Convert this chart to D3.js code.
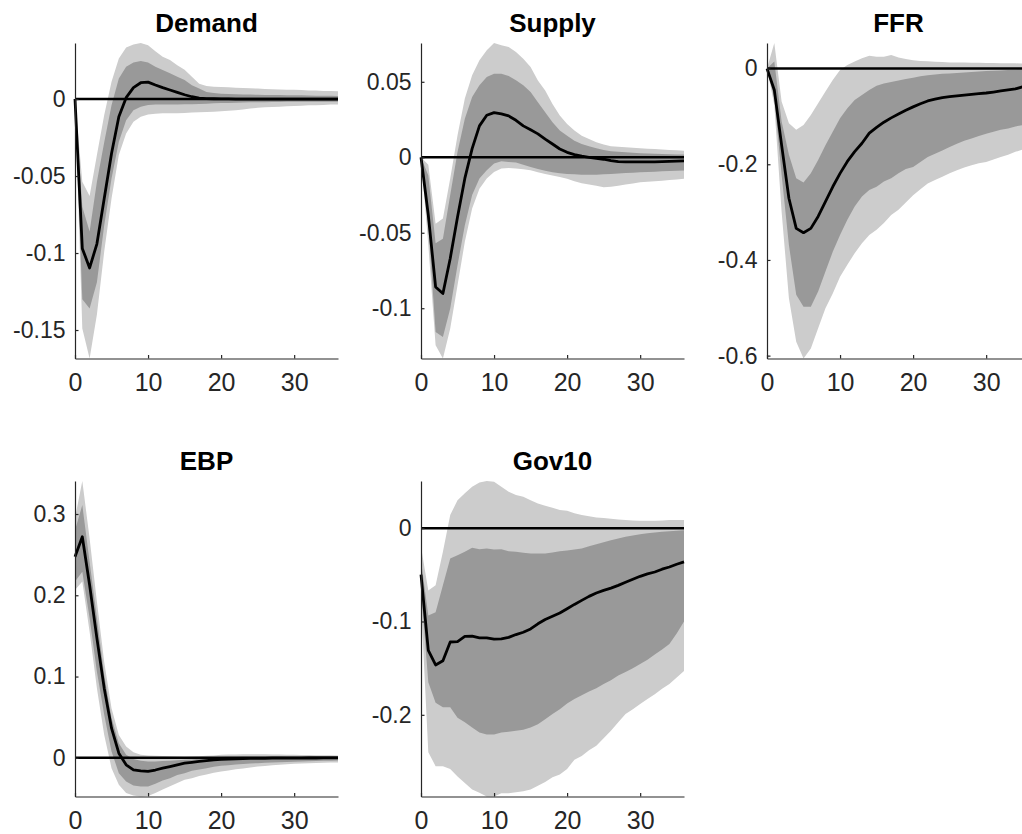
<!DOCTYPE html>
<html>
<head>
<meta charset="utf-8">
<script src="https://cdn.jsdelivr.net/npm/d3@7"></script>
<style>
  html, body { margin: 0; padding: 0; background: #ffffff; }
  svg { display: block; }
  text { font-family: "Liberation Sans", Arial, Helvetica, sans-serif; }
</style>
</head>
<body>
<svg id="chart" width="1022" height="834"></svg>
<script>
// ---------------- DATA ----------------
const horizons = d3.range(0, 37);
const panelNames = ["Demand", "Supply", "FFR", "EBP", "Gov10"];
const xTickValues = [0, 10, 20, 30];

// Demand
const demandMedian = [0, -0.097, -0.1097, -0.094, -0.0646, -0.0353, -0.0115, 0.0009, 0.0074, 0.0106, 0.011, 0.0091, 0.0074, 0.0059, 0.0043, 0.0028, 0.0015, 0.0006, 0.0003, 0.0002, 0.0001, 0.0001, 0, 0, 0, 0, 0, 0, 0, 0, 0, 0, 0, 0, 0, 0, 0];
const demandHi90 = [0, -0.0537, -0.063, -0.0364, -0.0104, 0.0113, 0.0264, 0.0334, 0.0355, 0.0364, 0.035, 0.031, 0.0275, 0.0254, 0.022, 0.019, 0.0145, 0.010, 0.0085, 0.008, 0.0078, 0.0076, 0.0074, 0.0072, 0.007, 0.0068, 0.0066, 0.0064, 0.0062, 0.0061, 0.006, 0.0058, 0.0056, 0.0055, 0.0053, 0.0052, 0.005];
const demandHi68 = [0, -0.07, -0.086, -0.0537, -0.028, -0.004, 0.0134, 0.021, 0.0238, 0.0247, 0.0238, 0.021, 0.0189, 0.0167, 0.0145, 0.0124, 0.009, 0.0069, 0.0045, 0.004, 0.0035, 0.0033, 0.0031, 0.003, 0.0029, 0.0028, 0.0027, 0.0026, 0.0026, 0.0025, 0.0025, 0.0024, 0.0023, 0.0022, 0.0021, 0.0021, 0.002];
const demandLo68 = [0, -0.13, -0.136, -0.119, -0.082, -0.0516, -0.0277, -0.0137, -0.0072, -0.005, -0.0039, -0.0036, -0.0035, -0.0035, -0.0035, -0.0034, -0.0033, -0.0032, -0.003, -0.0028, -0.0026, -0.0025, -0.0024, -0.0022, -0.0021, -0.002, -0.002, -0.0019, -0.0019, -0.0018, -0.0018, -0.0018, -0.0017, -0.0017, -0.0017, -0.0017, -0.0017];
const demandLo90 = [0, -0.149, -0.1685, -0.14, -0.099, -0.0646, -0.0364, -0.0223, -0.0147, -0.0115, -0.01, -0.0095, -0.0093, -0.0093, -0.0092, -0.009, -0.0088, -0.0086, -0.0084, -0.0082, -0.008, -0.0076, -0.0072, -0.0068, -0.0062, -0.0056, -0.0054, -0.0052, -0.005, -0.0047, -0.0045, -0.0043, -0.0041, -0.004, -0.0038, -0.0036, -0.0035];

// Supply
const supplyMedian = [0, -0.0384, -0.0859, -0.0903, -0.067, -0.0395, -0.014, 0.0057, 0.0208, 0.0278, 0.0296, 0.0287, 0.0274, 0.0245, 0.0208, 0.0182, 0.0155, 0.012, 0.0088, 0.0055, 0.0033, 0.0018, 0.0007, 0, -0.0007, -0.0013, -0.0022, -0.0029, -0.003, -0.003, -0.003, -0.003, -0.003, -0.0029, -0.0027, -0.0025, -0.0024];
const supplyHi90 = [0, -0.005, -0.044, -0.0406, -0.014, 0.0146, 0.0389, 0.0543, 0.0642, 0.0709, 0.0757, 0.0742, 0.073, 0.0698, 0.0653, 0.0598, 0.0508, 0.0442, 0.0353, 0.0276, 0.022, 0.0177, 0.0143, 0.0121, 0.0099, 0.0084, 0.0073, 0.0069, 0.0066, 0.0063, 0.006, 0.0057, 0.0054, 0.0051, 0.0048, 0.0046, 0.0044];
const supplyHi68 = [0, -0.012, -0.057, -0.054, -0.025, 0.0035, 0.0256, 0.040, 0.0477, 0.0532, 0.0554, 0.0554, 0.0539, 0.051, 0.0477, 0.0433, 0.0364, 0.0298, 0.0232, 0.0177, 0.0143, 0.011, 0.0088, 0.0073, 0.006, 0.0049, 0.004, 0.0036, 0.0033, 0.003, 0.0026, 0.0025, 0.0023, 0.0022, 0.002, 0.0019, 0.0018];
const supplyLo68 = [0, -0.045, -0.1157, -0.119, -0.1002, -0.0715, -0.045, -0.025, -0.0141, -0.0086, -0.0042, -0.0026, -0.0031, -0.0035, -0.005, -0.0065, -0.0078, -0.009, -0.0099, -0.0105, -0.011, -0.0113, -0.0115, -0.0115, -0.0115, -0.0113, -0.011, -0.0107, -0.0104, -0.0102, -0.01, -0.0098, -0.0096, -0.0093, -0.0091, -0.009, -0.0088];
const supplyLo90 = [0, -0.058, -0.1245, -0.1333, -0.1135, -0.0848, -0.056, -0.034, -0.0208, -0.0141, -0.0097, -0.0075, -0.0071, -0.0075, -0.0079, -0.0086, -0.0099, -0.011, -0.012, -0.013, -0.0143, -0.0158, -0.0172, -0.018, -0.0188, -0.0199, -0.0195, -0.0188, -0.018, -0.0173, -0.0166, -0.0162, -0.0158, -0.0155, -0.015, -0.0147, -0.0143];

// FFR
const ffrMedian = [0, -0.0446, -0.16, -0.271, -0.334, -0.343, -0.334, -0.309, -0.278, -0.247, -0.219, -0.194, -0.1735, -0.156, -0.135, -0.123, -0.112, -0.103, -0.095, -0.087, -0.08, -0.0735, -0.0676, -0.064, -0.0606, -0.0588, -0.057, -0.0555, -0.054, -0.0525, -0.051, -0.049, -0.0467, -0.0446, -0.0425, -0.038, -0.035];
const ffrHi90 = [0, 0.0535, -0.069, -0.114, -0.128, -0.118, -0.097, -0.0725, -0.048, -0.0237, -0.003, 0.0077, 0.0146, 0.0216, 0.027, 0.025, 0.025, 0.0286, 0.023, 0.02, 0.0174, 0.016, 0.0153, 0.0145, 0.014, 0.013, 0.0128, 0.0125, 0.0122, 0.012, 0.0118, 0.0116, 0.0114, 0.0112, 0.011, 0.0107, 0.0105];
const ffrHi68 = [0, 0.0146, -0.11, -0.18, -0.229, -0.238, -0.219, -0.191, -0.16, -0.132, -0.104, -0.083, -0.0655, -0.055, -0.0446, -0.036, -0.031, -0.028, -0.025, -0.022, -0.019, -0.016, -0.014, -0.0125, -0.011, -0.01, -0.009, -0.008, -0.007, -0.006, -0.005, -0.0045, -0.004, -0.003, -0.0027, -0.0023, -0.002];
const ffrLo68 = [0, -0.062, -0.222, -0.369, -0.473, -0.4976, -0.4976, -0.466, -0.424, -0.383, -0.348, -0.316, -0.2885, -0.2676, -0.2537, -0.247, -0.236, -0.229, -0.219, -0.21, -0.2056, -0.195, -0.185, -0.178, -0.171, -0.164, -0.157, -0.151, -0.146, -0.141, -0.136, -0.132, -0.128, -0.125, -0.121, -0.118, -0.115];
const ffrLo90 = [0, -0.076, -0.299, -0.48, -0.571, -0.606, -0.585, -0.543, -0.501, -0.47, -0.435, -0.41, -0.386, -0.365, -0.348, -0.337, -0.323, -0.306, -0.295, -0.28, -0.265, -0.252, -0.24, -0.233, -0.226, -0.219, -0.2125, -0.207, -0.202, -0.198, -0.195, -0.19, -0.185, -0.18, -0.174, -0.169, -0.164];

// EBP
const ebpMedian = [0.2475, 0.272, 0.2127, 0.147, 0.0857, 0.0365, 0.0057, -0.0086, -0.0148, -0.016, -0.0168, -0.015, -0.0127, -0.0107, -0.0086, -0.0066, -0.0055, -0.0045, -0.0035, -0.0025, -0.002, -0.0015, -0.0012, -0.001, -0.0008, -0.0007, -0.0006, -0.0005, -0.0004, -0.0004, -0.0003, -0.0003, -0.0002, -0.0002, -0.0001, -0.0001, 0];
const ebpHi90 = [0.295, 0.3406, 0.27, 0.192, 0.118, 0.061, 0.028, 0.014, 0.007, 0.0037, 0.003, 0.0025, 0.0022, 0.002, 0.0015, 0.0012, 0.0015, 0.002, 0.0025, 0.003, 0.0037, 0.004, 0.0042, 0.0044, 0.0045, 0.0045, 0.0044, 0.0042, 0.004, 0.0038, 0.0037, 0.0035, 0.0034, 0.0033, 0.0032, 0.0031, 0.003];
const ebpHi68 = [0.28, 0.311, 0.241, 0.172, 0.102, 0.049, 0.018, 0.0037, -0.0016, -0.0037, -0.0045, -0.0045, -0.004, -0.0035, -0.003, -0.0025, -0.002, -0.001, -0.0005, 0.0005, 0.001, 0.0012, 0.0014, 0.0015, 0.0016, 0.0016, 0.0016, 0.0015, 0.0015, 0.0014, 0.0014, 0.0013, 0.0013, 0.0012, 0.0012, 0.0012, 0.0012];
const ebpLo68 = [0.217, 0.229, 0.172, 0.106, 0.053, 0.0078, -0.0189, -0.029, -0.034, -0.0352, -0.0352, -0.032, -0.028, -0.025, -0.021, -0.0189, -0.016, -0.0145, -0.0127, -0.011, -0.0098, -0.009, -0.0082, -0.0076, -0.007, -0.0066, -0.0062, -0.0058, -0.0055, -0.0051, -0.0048, -0.0045, -0.0042, -0.004, -0.0037, -0.0035, -0.0033];
const ebpLo90 = [0.2066, 0.217, 0.155, 0.0857, 0.028, -0.0127, -0.033, -0.0434, -0.0463, -0.0476, -0.047, -0.0434, -0.039, -0.035, -0.031, -0.027, -0.025, -0.0225, -0.0205, -0.0185, -0.0168, -0.0155, -0.014, -0.013, -0.0118, -0.0107, -0.01, -0.0093, -0.0086, -0.008, -0.0074, -0.007, -0.0066, -0.0063, -0.006, -0.0058, -0.0057];

// Gov10
const gov10Median = [-0.0498, -0.131, -0.1466, -0.142, -0.122, -0.1215, -0.116, -0.1158, -0.1176, -0.1176, -0.119, -0.1186, -0.117, -0.114, -0.1115, -0.108, -0.1025, -0.0978, -0.0943, -0.091, -0.0864, -0.0817, -0.0774, -0.0731, -0.0695, -0.0667, -0.0642, -0.0613, -0.058, -0.0548, -0.0516, -0.049, -0.047, -0.044, -0.0416, -0.0387, -0.0362];
const gov10Hi90 = [-0.02, -0.0667, -0.0613, -0.0254, 0.014, 0.030, 0.0373, 0.0444, 0.049, 0.0505, 0.0498, 0.0444, 0.039, 0.0355, 0.0337, 0.030, 0.0265, 0.024, 0.0219, 0.0194, 0.0186, 0.016, 0.014, 0.0128, 0.0115, 0.0108, 0.01, 0.0093, 0.0086, 0.0082, 0.0079, 0.0079, 0.0079, 0.0082, 0.0086, 0.0086, 0.0086];
const gov10Hi68 = [-0.035, -0.0935, -0.09, -0.0613, -0.0326, -0.029, -0.0254, -0.0211, -0.0226, -0.0219, -0.023, -0.0226, -0.0247, -0.0254, -0.0265, -0.0272, -0.0272, -0.0272, -0.026, -0.0247, -0.024, -0.023, -0.0219, -0.0195, -0.0172, -0.015, -0.0129, -0.011, -0.0093, -0.0078, -0.0065, -0.0055, -0.0047, -0.004, -0.0032, -0.0027, -0.0022];
const gov10Lo68 = [-0.065, -0.165, -0.187, -0.192, -0.192, -0.203, -0.208, -0.2136, -0.219, -0.221, -0.221, -0.219, -0.218, -0.217, -0.216, -0.2136, -0.21, -0.2047, -0.199, -0.194, -0.188, -0.183, -0.179, -0.175, -0.1715, -0.167, -0.163, -0.158, -0.154, -0.15, -0.1455, -0.141, -0.1355, -0.13, -0.124, -0.113, -0.100];
const gov10Lo90 = [-0.08, -0.24, -0.255, -0.255, -0.258, -0.266, -0.273, -0.28, -0.2835, -0.2875, -0.2875, -0.284, -0.284, -0.283, -0.282, -0.28, -0.276, -0.272, -0.267, -0.264, -0.258, -0.248, -0.244, -0.238, -0.233, -0.225, -0.217, -0.208, -0.199, -0.194, -0.1885, -0.183, -0.178, -0.172, -0.167, -0.16, -0.153];

// Y tick values per panel
const demandYTicks = [-0.15, -0.1, -0.05, 0];
const supplyYTicks = [-0.1, -0.05, 0, 0.05];
const ffrYTicks = [-0.6, -0.4, -0.2, 0];
const ebpYTicks = [0, 0.1, 0.2, 0.3];
const gov10YTicks = [-0.2, -0.1, 0];

// ---------------- BUILD ----------------
const panels = [
  { name: panelNames[0], med: demandMedian, hi90: demandHi90, hi68: demandHi68, lo68: demandLo68, lo90: demandLo90, yt: demandYTicks },
  { name: panelNames[1], med: supplyMedian, hi90: supplyHi90, hi68: supplyHi68, lo68: supplyLo68, lo90: supplyLo90, yt: supplyYTicks },
  { name: panelNames[2], med: ffrMedian, hi90: ffrHi90, hi68: ffrHi68, lo68: ffrLo68, lo90: ffrLo90, yt: ffrYTicks },
  { name: panelNames[3], med: ebpMedian, hi90: ebpHi90, hi68: ebpHi68, lo68: ebpLo68, lo90: ebpLo90, yt: ebpYTicks },
  { name: panelNames[4], med: gov10Median, hi90: gov10Hi90, hi68: gov10Hi68, lo68: gov10Lo68, lo90: gov10Lo90, yt: gov10YTicks }
];

const colLeft = [75, 421, 767];
const rowTop = [43, 481];
const plotW = 263;
const plotH = 315.5;
const yFontSize = 23;
const xFontSize = 25;
const axisColor = "#262626";

const svg = d3.select("#chart");

panels.forEach((p, i) => {
  const col = i % 3, row = Math.floor(i / 3);
  const g = svg.append("g").attr("transform", `translate(${colLeft[col]},${rowTop[row]})`);

  const x = d3.scaleLinear().domain([0, 36]).range([0, plotW]);
  const allVals = p.lo90.concat(p.hi90, p.med);
  const y = d3.scaleLinear().domain(d3.extent(allVals)).range([plotH, 0]);

  const band = (lo, hi) => d3.area()
    .x((d, k) => x(horizons[k]))
    .y0((d, k) => y(lo[k]))
    .y1((d, k) => y(hi[k]));

  g.append("path").datum(horizons).attr("d", band(p.lo90, p.hi90)).attr("fill", "#cccccc");
  g.append("path").datum(horizons).attr("d", band(p.lo68, p.hi68)).attr("fill", "#999999");

  // zero line
  g.append("path").datum([0, 36])
    .attr("d", d3.line().x(d => x(d)).y(() => y(0)))
    .attr("stroke", "#000").attr("stroke-width", 2.5).attr("fill", "none");

  // median
  g.append("path").datum(horizons)
    .attr("d", d3.line().x(d => x(d)).y((d, k) => y(p.med[k])))
    .attr("stroke", "#000").attr("stroke-width", 2.8).attr("fill", "none")
    .attr("stroke-linejoin", "round");

  // axes
  const xAxis = d3.axisBottom(x).tickValues(xTickValues).tickFormat(d => String(d))
    .tickSizeInner(-3.5).tickSizeOuter(0).tickPadding(14.5);
  const yAxis = d3.axisLeft(y).tickValues(p.yt).tickFormat(d => String(d))
    .tickSizeInner(-3.5).tickSizeOuter(0).tickPadding(9.5);

  const gx = g.append("g").attr("transform", `translate(0,${plotH})`).call(xAxis);
  const gy = g.append("g").call(yAxis);
  [gx, gy].forEach((a, j) => {
    a.select(".domain").attr("stroke", axisColor).attr("stroke-width", 1.2);
    a.selectAll(".tick line").attr("stroke", axisColor).attr("stroke-width", 1.2);
    a.selectAll(".tick text").attr("fill", axisColor).attr("font-size", j === 0 ? xFontSize : yFontSize)
      .attr("font-family", '"Liberation Sans", Arial, Helvetica, sans-serif');
  });

  // title
  g.append("text")
    .attr("x", plotW / 2).attr("y", -11)
    .attr("text-anchor", "middle")
    .attr("font-weight", "bold").attr("font-size", 26).attr("fill", "#000")
    .text(p.name);
});
</script>
</body>
</html>
